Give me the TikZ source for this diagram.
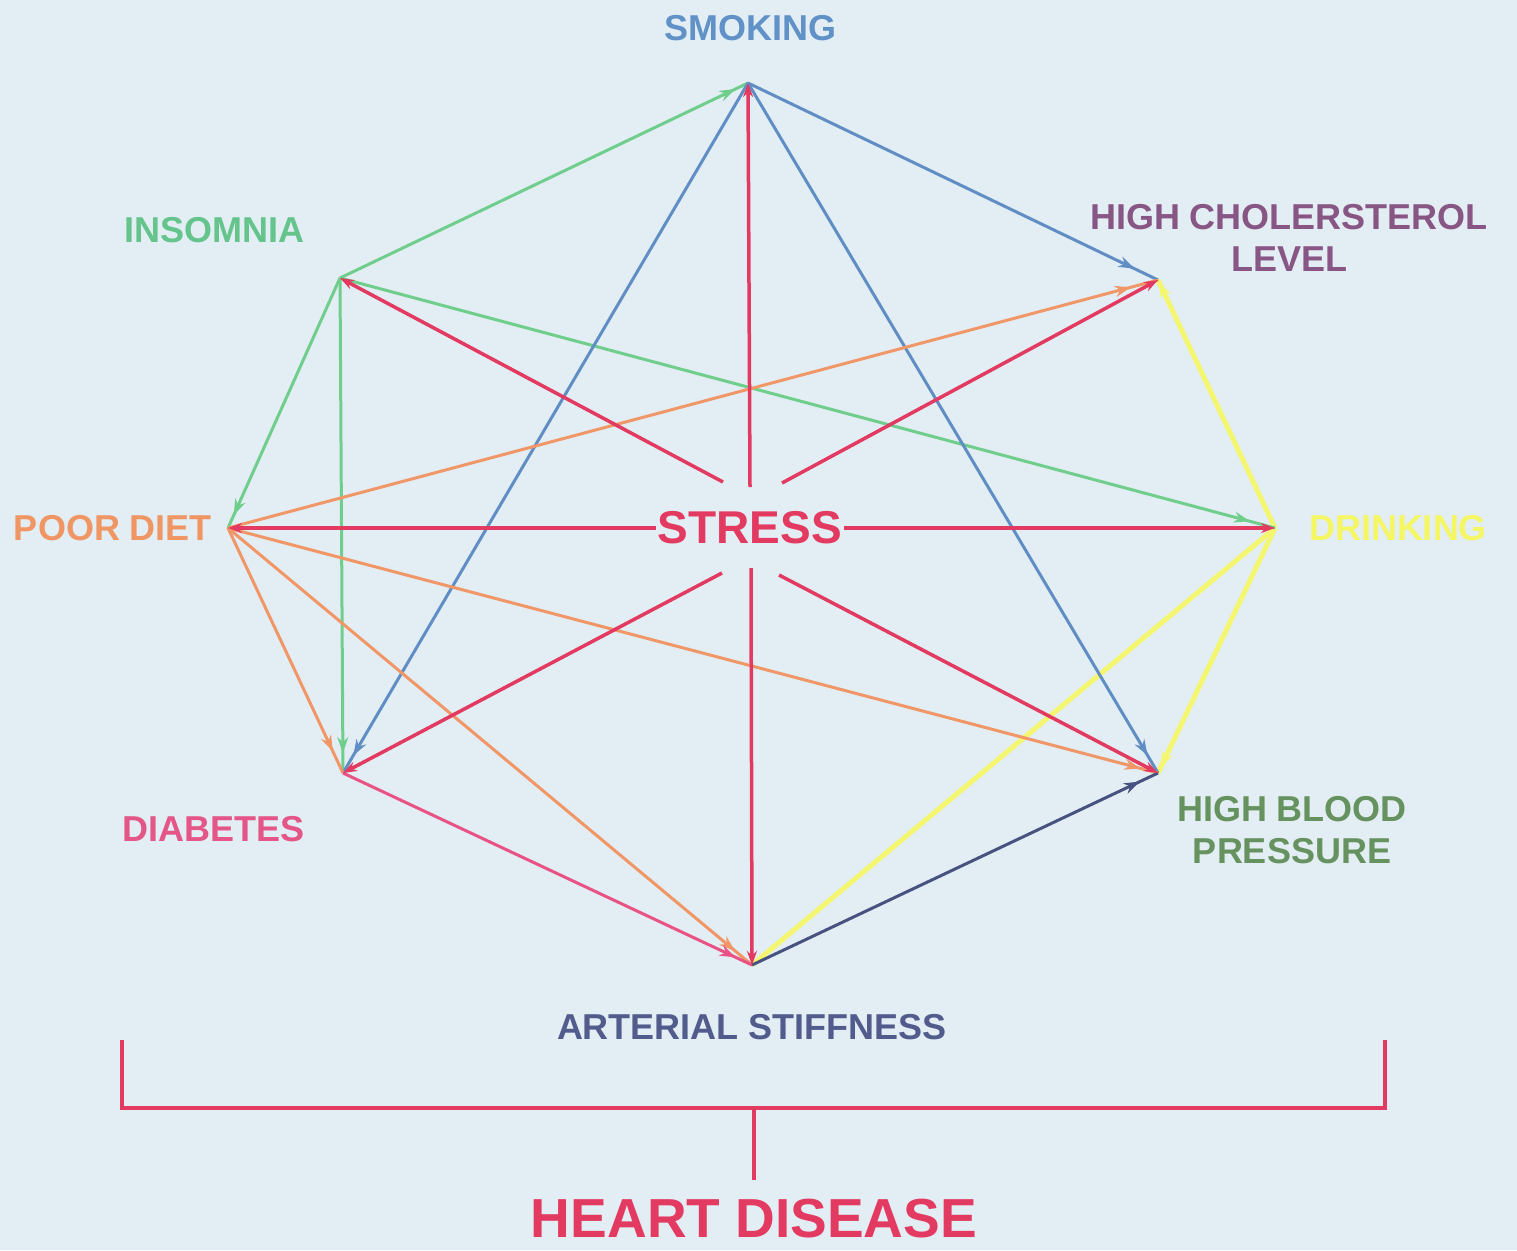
\documentclass[tikz,border=0pt]{standalone}
\usepackage{fontspec}
\setmainfont{Liberation Sans}
\usetikzlibrary{arrows.meta,decorations.markings}
\definecolor{bg}{RGB}{227,238,244}
\definecolor{cred}{RGB}{226,58,96}
\definecolor{cgreen}{RGB}{112,206,140}
\definecolor{cblue}{RGB}{96,142,196}
\definecolor{corange}{RGB}{241,150,102}
\definecolor{cpink}{RGB}{232,82,132}
\definecolor{cyellow}{RGB}{244,246,112}
\definecolor{cnavy}{RGB}{72,82,128}
\definecolor{tsmoke}{RGB}{96,146,200}
\definecolor{tchol}{RGB}{136,86,132}
\definecolor{tdrink}{RGB}{244,246,100}
\definecolor{thbp}{RGB}{102,146,96}
\definecolor{tart}{RGB}{82,92,140}
\definecolor{tdiab}{RGB}{228,86,136}
\definecolor{tdiet}{RGB}{240,150,100}
\definecolor{tinsom}{RGB}{100,196,140}
\begin{document}
\begin{tikzpicture}[x=1pt,y=-1pt,
  lbl/.style={inner sep=0pt, font=\fontsize{36}{42}\selectfont\bfseries, align=center},
  conn/.style={line width=3pt},
  tiparrow/.style={-{Stealth[length=14pt,width=10pt]}},
  markarrow/.style={postaction={decorate},decoration={markings,mark=at position #1 with {\arrow{Stealth[length=16pt,width=11pt]}}}},
  redline/.style={line width=3.5pt, cred, tiparrow},
  greenline/.style={conn, cgreen},
  blueline/.style={conn, cblue},
  orangeline/.style={conn, corange},
  yellowline/.style={line width=5pt, cyellow},
]
\fill[bg] (0,0) rectangle (1517,1250);
\useasboundingbox (0,0) rectangle (1517,1250);

% vertices
\coordinate (SM) at (748,83);
\coordinate (HC) at (1158,280);
\coordinate (DR) at (1275,528);
\coordinate (HB) at (1158,773);
\coordinate (AS) at (752,965);
\coordinate (DB) at (343,773);
\coordinate (PD) at (228,528);
\coordinate (IN) at (340,278);

% labels
\node[lbl, text=tsmoke] (lSM) at (750,28) {SMOKING};
\node[lbl, text=tchol] (lHC) at (1289,238) {HIGH CHOLERSTEROL\\LEVEL};
\node[lbl, text=tdrink] (lDR) at (1398,528) {DRINKING};
\node[lbl, text=thbp] (lHB) at (1292,830) {HIGH BLOOD\\PRESSURE};
\node[lbl, text=tart] (lAS) at (752,1027) {ARTERIAL STIFFNESS};
\node[lbl, text=tdiab] (lDB) at (214,829) {DIABETES};
\node[lbl, text=tdiet] (lPD) at (113,528) {POOR DIET};
\node[lbl, text=tinsom] (lIN) at (214,230) {INSOMNIA};
\node[inner sep=2pt, font=\fontsize{46}{50}\selectfont\bfseries, text=cred] (ST) at (750,528) {STRESS};

% stress spokes start points
\coordinate (sSM) at (750,487);
\coordinate (sAS) at (751,568);
\coordinate (sIN) at (723,482);
\coordinate (sHC) at (782,483);
\coordinate (sDB) at (722,573);
\coordinate (sHB) at (779,575);

% yellow (drinking)
\draw[yellowline] (AS) -- (DR);
\draw[yellowline, markarrow=-2pt] (DR) -- (HC);
\draw[yellowline, markarrow=-6pt] (DR) -- (HB);

% green (insomnia)
\draw[greenline, markarrow=-14pt] (IN) -- (SM);
\draw[greenline, markarrow=-14pt] (IN) -- (PD);
\draw[greenline, markarrow=-20pt] (IN) -- (DB);
\draw[greenline, markarrow=-26pt] (IN) -- (DR);

% blue (smoking)
\draw[blueline, markarrow=-26pt] (SM) -- (HC);
\draw[blueline, markarrow=-20pt] (SM) -- (DB);
\draw[blueline, markarrow=-20pt] (SM) -- (HB);

% orange (poor diet)
\draw[orangeline, markarrow=-28pt] (PD) -- (HC);
\draw[orangeline, markarrow=-18pt] (PD) -- (HB);
\draw[orangeline, markarrow=-24pt] (PD) -- (DB);
\draw[orangeline, markarrow=-22pt] (PD) -- (AS);

% pink (diabetes)
\draw[conn, cpink, markarrow=-18pt] (DB) -- (AS);

% navy (arterial stiffness)
\draw[conn, cnavy, markarrow=-20pt] (AS) -- (HB);

% red (stress)
\draw[redline] (sSM) -- (SM);
\draw[redline] (sAS) -- (AS);
\draw[redline] (sIN) -- (IN);
\draw[redline] (sHC) -- (HC);
\draw[redline] (sDB) -- (DB);
\draw[redline] (sHB) -- (HB);
\draw[redline] (ST.west) -- (PD);
\draw[redline] (ST.east) -- (DR);

% heart disease bracket
\coordinate (bl) at (122,1040);
\coordinate (br) at (1385,1040);
\coordinate (bm) at (754,1108);
\node[inner sep=0pt, font=\fontsize{55}{60}\selectfont\bfseries, text=cred] (HD) at (754,1219) {HEART DISEASE};
\draw[line width=4pt, cred, line join=miter] (bl) |- (bm) -| (br);
\draw[line width=4pt, cred] (bm) -- ++(0,72) coordinate (stem);
\end{tikzpicture}
\end{document}
